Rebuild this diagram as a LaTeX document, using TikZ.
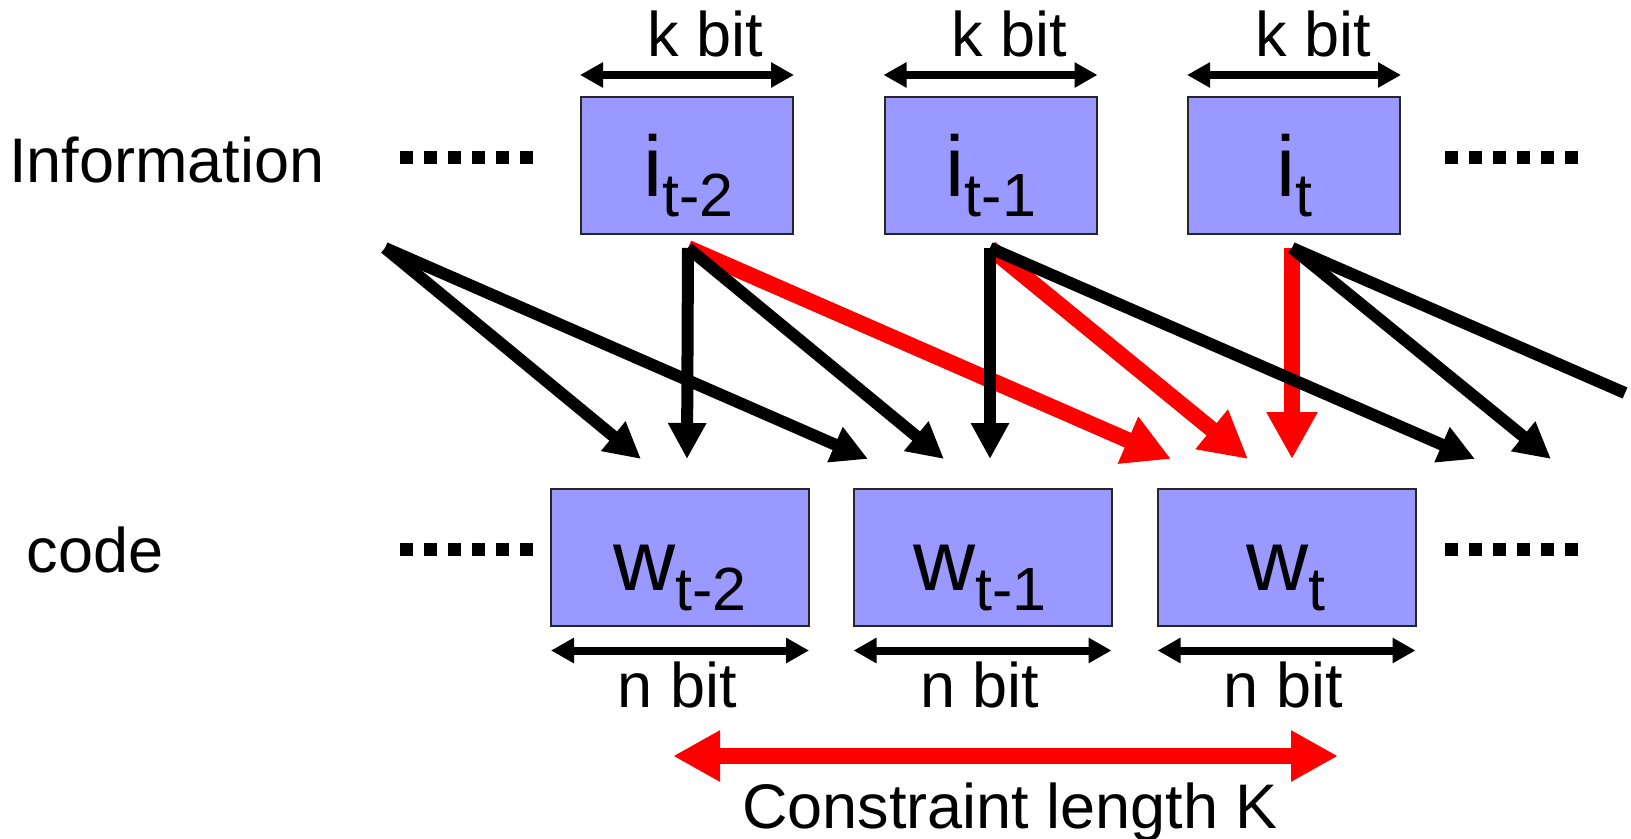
\documentclass[tikz,border=0pt]{standalone}
\usepackage{fontspec}
\setmainfont{Liberation Sans}
\usetikzlibrary{arrows.meta}
\definecolor{boxfill}{HTML}{9999FF}
\definecolor{myred}{HTML}{FF0000}
\newcommand{\mylab}[2]{{\fontsize{43}{50}\selectfont #1\raisebox{-10pt}{\fontsize{30.5}{36}\selectfont #2}}}
\begin{document}
\begin{tikzpicture}[x=0.5pt,y=-0.5pt,
  blk/.style={line width=6pt, draw=black, -{Triangle[length=18pt,width=18pt]}},
  blkline/.style={line width=6pt, draw=black},
  redarr/.style={line width=8pt, draw=myred, -{Triangle[length=23.5pt,width=24pt]}},
  redboth/.style={line width=8pt, draw=myred, {Triangle[length=23.5pt,width=24pt]}-{Triangle[length=23.5pt,width=24pt]}},
  dimarr/.style={line width=4pt, draw=black, {Triangle[length=11.5pt,width=12pt]}-{Triangle[length=11.5pt,width=12pt]}},
  ibox/.style={draw=black!85, line width=1pt, fill=boxfill, minimum width=106pt, minimum height=68.5pt, inner sep=0pt},
  wbox/.style={draw=black!85, line width=1pt, fill=boxfill, minimum width=129pt, minimum height=68.5pt, inner sep=0pt},
  lab/.style={font=\fontsize{31.5}{38}\selectfont, inner sep=0pt, anchor=base},
  boxlab/.style={inner sep=0pt, anchor=base}
]
\useasboundingbox (0,0) rectangle (1631,839);

% row labels
\node[lab, anchor=base west] (info) at (9,183) {Information};
\node[lab, anchor=base west] (code) at (26.5,572) {code};

% dots
\foreach \x in {400,424,...,520} {
  \fill (\x,151) rectangle ++(13,13);
  \fill (\x,543) rectangle ++(13,13);
}
\foreach \x in {1445,1469,...,1565} {
  \fill (\x,151) rectangle ++(13,13);
  \fill (\x,543) rectangle ++(13,13);
}

% information boxes
\node[ibox] (i2) at (687,165.5) {};
\node[ibox] (i1) at (990.5,165.5) {};
\node[ibox] (i0) at (1294,165.5) {};
\node[boxlab] (li2) at (688.5,197) {\mylab{i}{t-2}};
\node[boxlab] (li1) at (991,197) {\mylab{i}{t-1}};
\node[boxlab] (li0) at (1294.5,197) {\mylab{i}{t}};

% code boxes
\node[wbox] (w2) at (680,557.5) {};
\node[wbox] (w1) at (982.5,557.5) {};
\node[wbox] (w0) at (1286.5,557.5) {};
\node[boxlab] (lw2) at (680,590) {\mylab{w}{t-2}};
\node[boxlab] (lw1) at (980,590) {\mylab{w}{t-1}};
\node[boxlab] (lw0) at (1286,590) {\mylab{w}{t}};

% k bit
\draw[dimarr] ([yshift=10.5pt]i2.north west) -- ([yshift=10.5pt]i2.north east);
\draw[dimarr] ([yshift=10.5pt]i1.north west) -- ([yshift=10.5pt]i1.north east);
\draw[dimarr] ([yshift=10.5pt]i0.north west) -- ([yshift=10.5pt]i0.north east);
\node[lab] (k2) at (705,57) {k bit};
\node[lab] (k1) at (1009,57) {k bit};
\node[lab] (k0) at (1313,57) {k bit};

% n bit
\draw[dimarr] ([yshift=-11.75pt,xshift=0.5pt]w2.south west) -- ([yshift=-11.75pt,xshift=-0.5pt]w2.south east);
\draw[dimarr] ([yshift=-11.75pt,xshift=0.5pt]w1.south west) -- ([yshift=-11.75pt,xshift=-0.5pt]w1.south east);
\draw[dimarr] ([yshift=-11.75pt,xshift=0.5pt]w0.south west) -- ([yshift=-11.75pt,xshift=-0.5pt]w0.south east);
\node[lab] (n2) at (677.5,707) {n bit};
\node[lab] (n1) at (980,707) {n bit};
\node[lab] (n0) at (1283.5,707) {n bit};

% sources and targets
\coordinate (s3) at (385,248);
\coordinate (s2) at (688,248);
\coordinate (s1) at (990,248);
\coordinate (s0) at (1292,248);
\coordinate (ta) at (641,459);
\coordinate (tb) at (687,459);
\coordinate (tc) at (868,459);
\coordinate (td) at (944,459);
\coordinate (te) at (990,459);
\coordinate (tf) at (1171,459);
\coordinate (tg) at (1248,459);
\coordinate (th) at (1292,459);
\coordinate (ti) at (1475,459);
\coordinate (tj) at (1551,459);
\coordinate (tk) at (1625,393);

% red connectors
\draw[redarr] (s2) -- (tf);
\draw[redarr] (s1) -- (tg);
\draw[redarr] (s0) -- (th);

% black connectors
\draw[blk] (s3) -- (ta);
\draw[blk] (s3) -- (tc);
\draw[blk] (s2) -- (tb);
\draw[blk] (s2) -- (td);
\draw[blk] (s1) -- (te);
\draw[blk] (s1) -- (ti);
\draw[blk] (s0) -- (tj);
\draw[blkline] (s0) -- (tk);

% constraint length
\coordinate (cl) at (673,756);
\coordinate (cr) at (1338,756);
\draw[redboth] (cl) -- (cr);
\node[lab] (ck) at (1010,828) {Constraint length K};
\end{tikzpicture}
\end{document}
